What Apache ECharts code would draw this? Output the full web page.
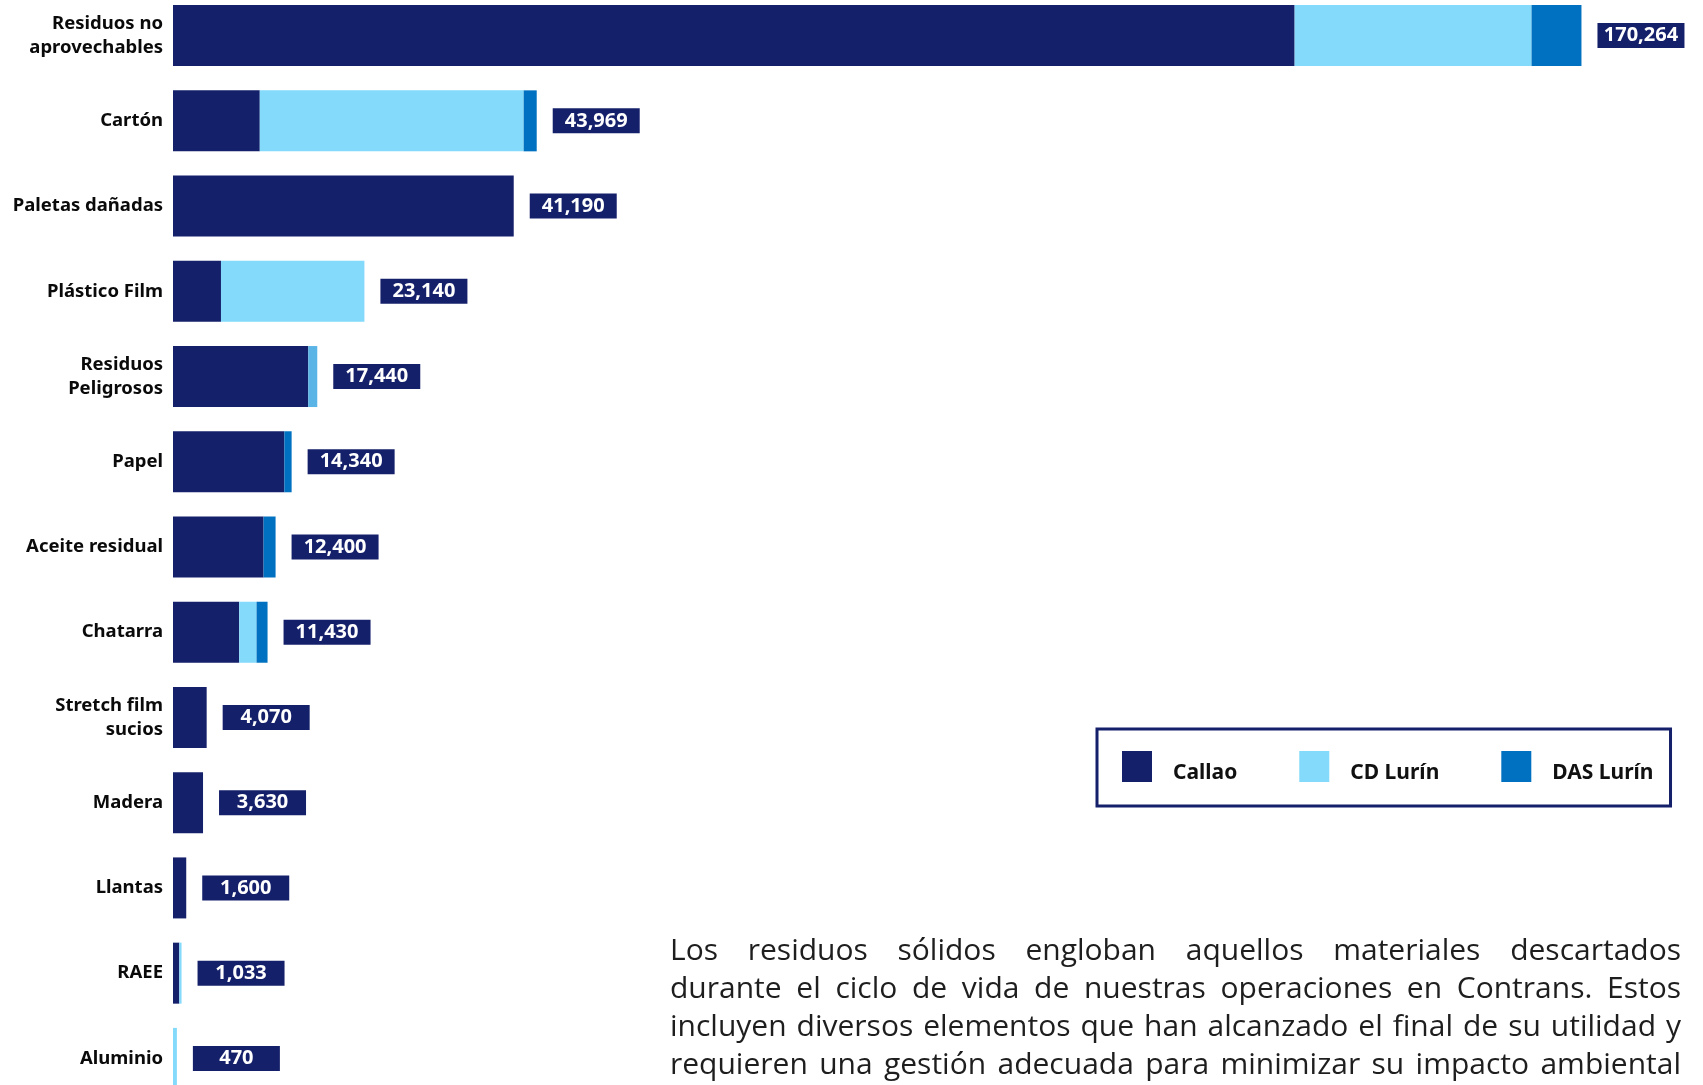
<!DOCTYPE html>
<html>
<head>
<meta charset="utf-8">
<script src="https://cdn.jsdelivr.net/npm/echarts@6/dist/echarts.min.js"></script>
<style>
  html, body { margin: 0; padding: 0; background: #ffffff; }
  #wrap { position: relative; width: 1703px; height: 1085px; overflow: hidden; background: #ffffff; }
  /* el lienzo sobresale arriba y abajo para que la primera y la ultima barra queden recortadas como en el original */
  #chart { position: absolute; left: 0; top: -20px; width: 1703px; height: 1140px; }
  .nota {
    position: absolute;
    left: 670px;
    top: 930px;
    width: 1011px;
    font-family: 'Open Sans', 'Noto Sans', sans-serif;
    font-weight: 400;
    font-size: 30px;
    line-height: 38px;
    color: #1e1e1e;
  }
  .nota div { text-align: justify; text-align-last: justify; white-space: nowrap; }
</style>
</head>
<body>
<div id="wrap">
  <div id="chart"></div>
  <div class="nota">
    <div>Los residuos sólidos engloban aquellos materiales descartados</div>
    <div>durante el ciclo de vida de nuestras operaciones en Contrans. Estos</div>
    <div>incluyen diversos elementos que han alcanzado el final de su utilidad y</div>
    <div>requieren una gestión adecuada para minimizar su impacto ambiental</div>
  </div>
</div>
<script>
const categories = [
  'Residuos no\naprovechables', 'Cartón', 'Paletas dañadas', 'Plástico Film',
  'Residuos\nPeligrosos', 'Papel', 'Aceite residual', 'Chatarra',
  'Stretch film\nsucios', 'Madera', 'Llantas', 'RAEE', 'Aluminio'
]
const callao   = [135590, 10490, 41190, 5800, 16350, 13460, 10950, 8000, 4070, 3630, 1600, 760, 0]
const cdLurin  = [28640, 31900, 0, 17340, 1090, 0, 0, 2100, 0, 0, 0, 273, 470]
const dasLurin = [6034, 1579, 0, 0, 0, 880, 1450, 1330, 0, 0, 0, 0, 0]
const totals   = [170264, 43969, 41190, 23140, 17440, 14340, 12400, 11430, 4070, 3630, 1600, 1033, 470]

const NAVY = '#15206a'
const CELESTE = '#83dafb'
const AZUL = '#0071c1'
const FONT = "'Noto Sans', 'Open Sans', sans-serif"

const chart = echarts.init(document.getElementById('chart'))

const option = {
  animation: false,
  backgroundColor: '#ffffff',
  grid: {
    left: 173,
    right: 41,
    top: 13,
    bottom: 19,
    containLabel: false
  },
  legend: {
    data: [
      { name: 'Callao', itemStyle: { color: NAVY } },
      { name: 'CD Lurín', itemStyle: { color: CELESTE } },
      { name: 'DAS Lurín', itemStyle: { color: AZUL } }
    ],
    left: 1097,
    top: 749,
    orient: 'horizontal',
    icon: 'rect',
    itemWidth: 30,
    itemHeight: 31,
    itemGap: 62,
    padding: [20, 17, 22, 25],
    borderColor: NAVY,
    borderWidth: 3,
    selectedMode: false,
    formatter: '{t|{name}}',
    textStyle: {
      fontFamily: FONT,
      fontSize: 21,
      fontWeight: 'bold',
      color: '#111111',
      padding: [0, 0, 0, 16],
      rich: {
        t: {
          fontFamily: FONT,
          fontSize: 21,
          fontWeight: 'bold',
          color: '#111111',
          lineHeight: 24,
          padding: [14, 0, 0, 0]
        }
      }
    }
  },
  xAxis: {
    type: 'value',
    min: 0,
    max: 180000,
    show: false
  },
  yAxis: {
    type: 'category',
    data: categories,
    inverse: true,
    axisLine: { show: false },
    axisTick: { show: false },
    axisLabel: {
      margin: 10,
      fontFamily: FONT,
      fontSize: 18.5,
      fontWeight: 'bold',
      color: '#0a0a0a',
      lineHeight: 24,
      align: 'right',
      padding: [0, 0, 6, 0]
    }
  },
  series: [
    {
      name: 'Callao',
      type: 'bar',
      stack: 'total',
      barWidth: 61,
      data: callao,
      itemStyle: { color: NAVY }
    },
    {
      name: 'CD Lurín',
      type: 'bar',
      stack: 'total',
      barWidth: 61,
      data: cdLurin,
      itemStyle: {
        // en Residuos Peligrosos el tramo sale en un celeste mas oscuro
        color: (p) => p.dataIndex === 4 ? '#5ab4e6' : CELESTE
      }
    },
    {
      name: 'DAS Lurín',
      type: 'bar',
      stack: 'total',
      barWidth: 61,
      data: dasLurin,
      itemStyle: { color: AZUL }
    },
    {
      // serie invisible solo para la etiqueta del total
      name: 'Total',
      type: 'bar',
      barWidth: 61,
      barGap: '-100%',
      data: totals,
      silent: true,
      itemStyle: { color: 'rgba(0,0,0,0)' },
      label: {
        show: true,
        position: 'right',
        distance: 16,
        formatter: (p) => '{b|' + p.value.toLocaleString('en-US') + '}',
        rich: {
          b: {
            width: 87,
            height: 25,
            lineHeight: 25,
            align: 'center',
            backgroundColor: NAVY,
            color: '#ffffff',
            fontFamily: FONT,
            fontSize: 20,
            fontWeight: 'bold'
          }
        }
      }
    }
  ]
}

chart.setOption(option)
</script>
</body>
</html>
